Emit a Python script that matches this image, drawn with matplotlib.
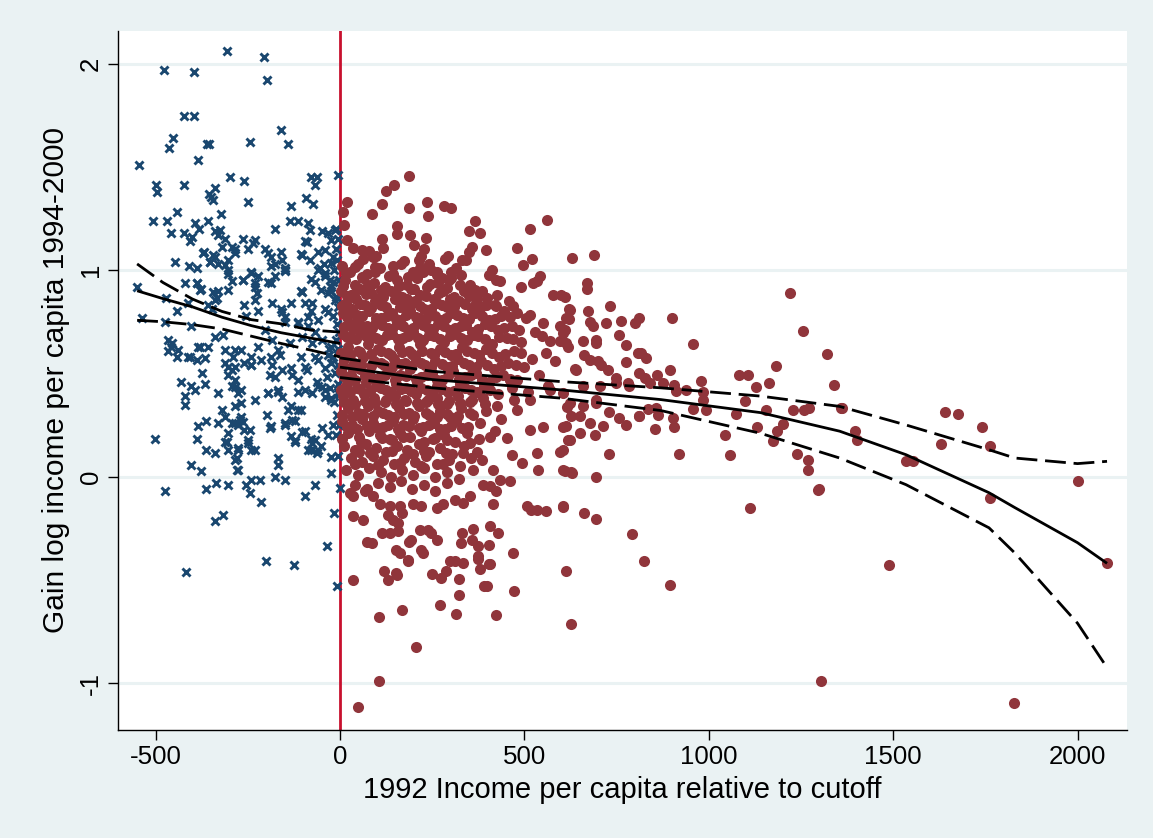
import matplotlib
matplotlib.use("Agg")
import matplotlib.pyplot as plt

# ---- observations below the cutoff (x markers) ----
below_pts = [
    (-306, 2.06), (-207, 2.03), (-477, 1.97), (-397, 1.96), (-199, 1.92), (-422, 1.745), (-396, 1.745),
    (-159, 1.68), (-453, 1.64), (-464, 1.59), (-361, 1.61), (-355, 1.61), (-244, 1.62), (-142, 1.61),
    (-385, 1.535), (-544, 1.51), (-298, 1.45), (-259, 1.43), (-500, 1.41), (-496, 1.38), (-422, 1.41),
    (-339, 1.40), (-356, 1.37), (-344, 1.34), (-349, 1.355), (-250, 1.33), (-78, 1.45), (-61, 1.45),
    (-68, 1.41), (-5, 1.46), (-91, 1.35), (-73, 1.32), (-132, 1.31), (-508, 1.24), (-468, 1.24),
    (-442, 1.28), (-458, 1.18), (-424, 1.18), (-407, 1.14), (-402, 1.16), (-393, 1.23), (-382, 1.20),
    (-359, 1.24), (-323, 1.27), (-340, 1.19), (-330, 1.17), (-326, 1.195), (-312, 1.15), (-175, 1.20),
    (-136, 1.24), (-114, 1.24), (-87, 1.23), (-82, 1.195), (-262, 1.15), (-231, 1.145), (-236, 1.13),
    (-96, 1.14), (-50, 1.19), (-32, 1.18), (-14, 1.195), (-23, 1.145), (-10, 1.10), (-448, 1.04),
    (-410, 1.02), (-387, 1.01), (-368, 1.09), (-339, 1.065), (-353, 1.04), (-330, 1.03), (-303, 1.05),
    (-285, 1.10), (-303, 1.00), (-249, 1.10), (-204, 1.10), (-186, 1.065), (-159, 1.09), (-177, 1.03),
    (-150, 1.01), (-105, 1.08), (-82, 1.05), (-60, 1.09), (-42, 1.03), (-19, 1.065),
    (-549, 0.92), (-389, 0.94), (-376, 0.91), (-330, 0.90), (-303, 0.98), (-294, 0.945), (-303, 0.905),
    (-263, 0.95), (-240, 0.985), (-231, 0.92), (-222, 0.97), (-186, 1.02), (-177, 0.97), (-186, 0.94),
    (-150, 0.995), (-105, 0.90), (-78, 0.955), (-60, 1.00), (-41, 0.97), (-23, 0.92), (-51, 0.905),
    (-472, 0.865), (-443, 0.80), (-412, 0.84), (-339, 0.856), (-348, 0.81), (-259, 0.83), (-231, 0.856),
    (-222, 0.80), (-254, 0.78), (-159, 0.81), (-132, 0.84), (-150, 0.775), (-96, 0.84), (-78, 0.80),
    (-41, 0.81), (-60, 0.76), (-538, 0.77), (-475, 0.75), (-403, 0.73), (-114, 0.75), (-87, 0.73),
    (-69, 0.70), (-466, 0.66), (-457, 0.63), (-466, 0.606), (-439, 0.614), (-380, 0.63), (-357, 0.63),
    (-407, 0.58), (-389, 0.566), (-366, 0.574), (-312, 0.614), (-289, 0.58), (-267, 0.614), (-303, 0.53),
    (-285, 0.53), (-259, 0.55), (-240, 0.54), (-213, 0.566), (-186, 0.58), (-163, 0.59), (-190, 0.49),
    (-177, 0.48), (-132, 0.526), (-105, 0.58), (-96, 0.53), (-60, 0.566), (-41, 0.526), (-23, 0.55),
    (-430, 0.46), (-403, 0.44), (-366, 0.45), (-421, 0.39), (-393, 0.42), (-330, 0.405), (-294, 0.44),
    (-276, 0.405), (-267, 0.357), (-285, 0.34), (-231, 0.37), (-195, 0.405), (-168, 0.42), (-132, 0.34),
    (-105, 0.324), (-60, 0.437), (-41, 0.42), (-23, 0.38), (-321, 0.324), (-312, 0.29), (-330, 0.26),
    (-303, 0.21), (-285, 0.26), (-267, 0.29), (-259, 0.227), (-385, 0.243), (-389, 0.18), (-362, 0.27),
    (-362, 0.13), (-339, 0.115), (-502, 0.18), (-312, 0.17), (-303, 0.13), (-276, 0.13), (-249, 0.163),
    (-231, 0.13), (-285, 0.082), (-276, 0.034), (-186, 0.243), (-150, 0.26), (-123, 0.27), (-132, 0.195),
    (-123, 0.17), (-96, 0.22), (-78, 0.18), (-60, 0.13), (-51, 0.147), (-78, 0.13), (-168, 0.09),
    (-168, 0.058), (-177, 0.0), (-150, -0.015), (-96, -0.095), (-69, -0.04), (-23, 0.018), (-1, -0.055),
    (-403, 0.058), (-376, 0.026), (-362, -0.06), (-335, -0.03), (-303, -0.039), (-254, -0.039),
    (-244, -0.079), (-240, -0.015), (-218, -0.015), (-215, -0.124), (-475, -0.07), (-339, -0.216),
    (-317, -0.187), (-16, -0.176), (-34, -0.334), (-417, -0.46), (-200, -0.41), (-125, -0.43), (-8, -0.53),
    (-373, 0.50), (-420, 0.347), (-280, 0.032), (-271, 0.275), (-262, 0.266), (-276, 0.25), (-294, 0.258),
    (-307, 0.17), (-244, 0.226), (-249, 0.178), (-276, 0.137), (-280, 0.089), (-240, 0.129),
    (-199, 0.299), (-190, 0.234), (-149, 0.25), (-140, 0.323), (-131, 0.275), (-122, 0.178), (-104, 0.218),
    (-113, 0.323), (-90, 0.517), (-77, 0.162), (-68, 0.178), (-63, 0.113), (-86, 0.129), (-50, 0.234),
    (-32, 0.202), (-18, 0.25), (-23, 0.097), (-312, 0.549), (-294, 0.517), (-303, 0.492), (-285, 0.468),
    (-285, 0.436), (-267, 0.42), (-240, 0.541), (-185, 0.541), (-158, 0.517), (-131, 0.492), (-113, 0.468),
    (-194, 0.404), (-167, 0.412), (-158, 0.387), (-113, 0.412), (-95, 0.42), (-77, 0.404), (-63, 0.46),
    (-50, 0.436), (-27, 0.428), (-23, 0.371), (-5, 0.412), (-41, 0.387),
    (-371, 1.085), (-344, 1.074), (-353, 1.041), (-321, 1.114), (-294, 1.114), (-285, 1.082), (-312, 1.025),
    (-240, 0.993), (-262, 0.953), (-231, 0.937), (-226, 0.888), (-194, 0.944), (-149, 1.001), (-158, 1.049),
    (-194, 1.082), (-104, 1.074), (-90, 1.138), (-41, 1.098), (-23, 1.033), (-54, 1.009), (-41, 0.985),
    (-18, 0.944), (-68, 0.944), (-104, 0.896), (-77, 0.84), (-32, 0.888), (-14, 0.856), (-32, 0.799),
    (-86, 0.775), (-113, 0.743), (-149, 0.751), (-158, 0.799), (-185, 0.84), (-203, 0.71), (-185, 0.662),
    (-167, 0.614), (-222, 0.63), (-240, 0.581), (-285, 0.614), (-339, 0.678), (-317, 0.686), (-344, 0.896),
    (-334, 0.864), (-357, 0.831), (-389, 0.937), (-380, 0.904), (-420, 0.937), (-456, 0.646), (-443, 0.581),
    (-411, 0.581), (-384, 0.63), (-136, 0.646), (-104, 0.678), (-77, 0.646), (-50, 0.662), (-23, 0.63),
    (-32, 0.589), (-68, 0.581),
    (-10, 1.2), (-5, 1.15), (-8, 1.05), (-15, 1.0), (-3, 0.95), (-25, 0.9), (-10, 0.87), (-5, 0.82),
    (-18, 0.78), (-8, 0.74), (-3, 0.7), (-12, 0.66), (-6, 0.62), (-20, 0.58), (-4, 0.54), (-14, 0.5),
    (-6, 0.45), (-2, 0.4), (-16, 0.36), (-8, 0.3), (-3, 0.25), (-10, 0.2), (-4, 0.1), (-30, 0.62),
    (-35, 0.48), (-28, 0.95),
]

# ---- observations above the cutoff (filled circles) ----
above_sparse_pts = [
    (187, 1.456), (146, 1.41), (124, 1.385), (18, 1.33), (113, 1.32), (237, 1.33), (282, 1.31), (301, 1.30),
    (9, 1.28), (87, 1.27), (238, 1.26), (186, 1.30), (367, 1.24), (562, 1.245), (156, 1.216), (156, 1.176),
    (351, 1.19), (381, 1.18), (514, 1.20), (12, 1.22), (189, 1.17), (232, 1.156), (113, 1.153), (18, 1.147),
    (36, 1.106), (59, 1.098), (79, 1.095), (97, 1.066), (116, 1.106), (202, 1.12), (227, 1.10), (221, 1.066),
    (359, 1.11), (397, 1.098), (351, 1.09), (480, 1.106), (629, 1.058), (520, 1.055), (495, 1.024),
    (293, 1.066), (284, 1.053), (63, 1.055), (90, 1.063), (41, 1.013), (95, 1.017), (144, 1.02), (173, 1.046),
    (215, 1.05), (242, 1.03), (217, 1.01), (262, 0.993), (302, 0.993), (332, 1.05), (341, 1.05), (328, 0.977),
    (411, 1.00), (404, 0.977), (433, 0.945), (424, 0.953), (492, 0.918), (533, 0.945), (542, 0.97),
    (524, 0.937), (578, 0.88), (600, 0.88), (609, 0.872), (623, 0.808), (621, 0.763), (370, 0.84),
    (397, 0.832), (424, 0.824), (469, 0.824), (515, 0.784), (551, 0.744), (596, 0.727), (605, 0.695),
    (614, 0.647), (641, 0.518), (569, 0.655), (596, 0.655), (618, 0.63), (560, 0.598),
    (688, 1.075), (670, 0.937), (670, 0.908), (621, 0.81), (672, 0.80), (731, 0.824), (614, 0.77),
    (677, 0.75), (686, 0.727), (722, 0.746), (763, 0.756), (799, 0.743), (811, 0.77), (901, 0.768),
    (611, 0.711), (659, 0.655), (693, 0.647), (695, 0.663), (756, 0.687), (776, 0.635), (957, 0.643),
    (663, 0.59), (677, 0.566), (700, 0.558), (709, 0.542), (727, 0.518), (775, 0.553), (808, 0.598),
    (817, 0.598), (829, 0.574), (636, 0.521), (896, 0.518), (860, 0.493), (812, 0.502), (826, 0.477),
    (749, 0.477), (749, 0.453), (781, 0.453), (785, 0.437), (876, 0.453), (907, 0.445), (912, 0.413),
    (939, 0.42), (980, 0.461), (984, 0.408), (840, 0.453), (1083, 0.493), (1106, 0.493), (1127, 0.434),
    (1164, 0.453), (1183, 0.537), (1097, 0.364), (1074, 0.305), (1156, 0.324), (1228, 0.321), (1259, 0.324),
    (1273, 0.332), (1219, 0.889), (1255, 0.703), (1322, 0.595), (1340, 0.445), (1359, 0.332), (984, 0.372),
    (993, 0.324), (957, 0.327), (858, 0.332), (862, 0.30), (812, 0.292), (835, 0.327), (1043, 0.20),
    (1058, 0.103), (1130, 0.239), (1184, 0.223), (1175, 0.171), (1202, 0.256), (1238, 0.11), (1268, 0.079),
    (1268, 0.03), (1296, -0.063), (1397, 0.223), (1402, 0.179), (1113, -0.152), (903, 0.284), (919, 0.11),
    (854, 0.23), (905, 0.238), (811, 0.292), (776, 0.25), (729, 0.11), (692, 0.203), (650, 0.211),
    (623, 0.179), (605, 0.131), (609, 0.026), (627, 0.021), (693, -0.002), (605, -0.147), (663, -0.176),
    (693, -0.205), (792, -0.279), (729, 0.313), (758, 0.284), (713, 0.243), (650, 0.292), (659, 0.34),
    (623, 0.356), (627, 0.292), (614, 0.243), (695, 0.356), (704, 0.437), (659, 0.437), (695, 0.372),
    (677, 0.26),
    (1361, 0.332), (1489, -0.426), (1535, 0.074), (1553, 0.077), (1631, 0.16), (1641, 0.311), (1676, 0.301),
    (1742, 0.239), (1762, 0.15), (1764, -0.103), (2001, -0.023), (2081, -0.42), (1829, -1.095),
    (1305, -0.99), (1300, -0.06),
    (452, 0.186), (466, 0.105), (493, 0.065), (538, 0.032), (533, 0.113), (551, 0.242), (606, 0.242),
    (619, 0.178), (596, 0.121), (606, 0.032), (628, 0.019), (479, 0.323), (515, 0.226), (606, 0.404),
    (615, 0.339), (570, 0.42), (515, 0.371), (461, 0.468), (407, 0.194), (384, 0.081), (416, 0.032),
    (434, -0.016), (362, 0.032), (334, 0.113), (352, 0.162),
    (35, -0.50), (120, -0.456), (129, -0.50), (151, -0.466), (155, -0.476), (185, -0.41), (106, -0.68),
    (169, -0.648), (205, -0.827), (106, -0.99), (48, -1.116), (250, -0.47), (275, -0.49), (288, -0.456),
    (298, -0.41), (311, -0.41), (333, -0.418), (322, -0.498), (323, -0.572), (271, -0.62), (314, -0.663),
    (375, -0.40), (379, -0.445), (406, -0.424), (391, -0.53), (399, -0.53), (424, -0.67), (471, -0.555),
    (614, -0.455), (627, -0.714), (825, -0.41), (896, -0.526),
    (36, -0.19), (63, -0.208), (72, -0.318), (86, -0.321), (113, -0.272), (135, -0.272), (158, -0.265),
    (131, -0.184), (144, -0.208), (158, -0.224), (167, -0.176), (188, -0.318), (192, -0.305), (217, -0.26),
    (239, -0.26), (153, -0.353), (162, -0.37), (185, -0.406), (221, -0.353), (224, -0.37), (262, -0.305),
    (248, -0.272), (329, -0.321), (332, -0.272), (361, -0.256), (357, -0.305), (375, -0.337), (404, -0.329),
    (406, -0.24), (429, -0.272), (375, -0.386), (404, -0.421), (469, -0.372), (506, -0.144), (519, -0.16),
    (533, -0.16), (558, -0.168), (605, -0.144), (415, -0.135), (36, -0.095), (27, -0.079), (90, -0.095),
    (68, -0.071), (108, -0.131), (135, -0.144), (162, -0.144), (199, -0.135), (221, -0.144), (262, -0.152),
    (280, -0.132), (311, -0.111), (334, -0.127), (352, -0.095), (388, -0.039), (406, -0.047), (424, -0.071),
    (460, -0.023),
]

above_dense_pts = [
    (6, 1.02), (27, 0.99), (50, 1.03), (74, 0.98), (108, 1.01), (133, 0.97), (166, 1.03), (198, 0.99),
    (247, 1.0), (276, 0.96), (316, 1.01),
    (14, 0.95), (40, 0.93), (63, 0.96), (91, 0.94), (121, 0.92), (154, 0.95), (182, 0.93), (210, 0.96),
    (236, 0.92), (267, 0.94), (296, 0.95), (352, 0.93), (386, 0.9),
    (4, 0.9), (30, 0.88), (55, 0.91), (83, 0.89), (101, 0.86), (138, 0.9), (168, 0.87), (193, 0.91),
    (218, 0.88), (254, 0.86), (280, 0.9), (309, 0.87), (336, 0.9), (372, 0.86), (425, 0.88), (458, 0.85),
    (17, 0.84), (44, 0.86), (68, 0.83), (96, 0.85), (126, 0.82), (148, 0.86), (177, 0.83), (204, 0.85),
    (229, 0.81), (262, 0.84), (290, 0.82), (322, 0.85), (357, 0.81), (395, 0.83), (446, 0.8), (480, 0.79),
    (9, 0.79), (33, 0.81), (59, 0.78), (80, 0.8), (112, 0.77), (141, 0.79), (163, 0.76), (191, 0.8),
    (215, 0.77), (243, 0.79), (272, 0.76), (300, 0.79), (333, 0.77), (365, 0.79), (404, 0.76), (436, 0.78),
    (505, 0.77),
    (21, 0.74), (47, 0.76), (72, 0.73), (99, 0.75), (129, 0.72), (156, 0.74), (184, 0.71), (211, 0.75),
    (238, 0.72), (266, 0.74), (298, 0.71), (327, 0.73), (358, 0.7), (393, 0.74), (428, 0.71), (467, 0.73),
    (530, 0.7),
    (7, 0.69), (31, 0.67), (56, 0.7), (84, 0.68), (113, 0.66), (142, 0.69), (171, 0.67), (199, 0.7),
    (226, 0.66), (256, 0.68), (283, 0.65), (314, 0.69), (344, 0.66), (375, 0.68), (412, 0.64), (452, 0.67),
    (490, 0.65), (548, 0.68),
    (23, 0.63), (49, 0.61), (76, 0.64), (102, 0.62), (131, 0.6), (159, 0.63), (186, 0.61), (216, 0.64),
    (246, 0.6), (271, 0.62), (302, 0.59), (331, 0.63), (363, 0.6), (397, 0.62), (431, 0.58), (472, 0.61),
    (522, 0.57),
    (12, 0.57), (38, 0.55), (63, 0.58), (91, 0.56), (119, 0.54), (146, 0.57), (176, 0.55), (203, 0.58),
    (231, 0.54), (259, 0.56), (289, 0.53), (319, 0.57), (351, 0.54), (382, 0.56), (419, 0.52), (456, 0.55),
    (499, 0.53), (582, 0.56),
    (4, 0.51), (29, 0.49), (53, 0.52), (79, 0.5), (109, 0.48), (136, 0.51), (163, 0.49), (191, 0.52),
    (221, 0.48), (249, 0.5), (276, 0.47), (306, 0.51), (339, 0.48), (369, 0.5), (403, 0.46), (441, 0.49),
    (479, 0.47), (541, 0.49),
    (19, 0.45), (46, 0.43), (71, 0.46), (99, 0.44), (126, 0.42), (151, 0.45), (179, 0.43), (209, 0.46),
    (236, 0.42), (263, 0.44), (293, 0.41), (326, 0.45), (356, 0.42), (391, 0.44), (428, 0.4), (466, 0.43),
    (511, 0.41), (563, 0.44),
    (9, 0.39), (36, 0.37), (66, 0.4), (93, 0.38), (121, 0.36), (149, 0.39), (176, 0.37), (206, 0.4),
    (233, 0.36), (263, 0.38), (291, 0.35), (321, 0.39), (353, 0.36), (388, 0.38), (426, 0.34), (471, 0.37),
    (21, 0.33), (49, 0.31), (76, 0.34), (103, 0.32), (131, 0.3), (159, 0.33), (186, 0.31), (213, 0.34),
    (241, 0.3), (271, 0.32), (299, 0.29), (329, 0.33), (361, 0.3), (396, 0.32), (436, 0.28),
    (6, 0.27), (33, 0.25), (61, 0.28), (89, 0.26), (116, 0.24), (143, 0.27), (171, 0.25), (199, 0.28),
    (226, 0.24), (256, 0.26), (286, 0.23), (316, 0.27), (346, 0.24), (381, 0.26), (421, 0.22),
    (23, 0.21), (51, 0.19), (80, 0.22), (108, 0.2), (136, 0.18), (163, 0.21), (191, 0.19), (221, 0.22),
    (251, 0.18), (281, 0.2), (311, 0.17), (344, 0.21), (376, 0.18),
    (11, 0.15), (41, 0.13), (71, 0.16), (99, 0.14), (126, 0.12), (156, 0.15), (183, 0.13), (213, 0.16),
    (241, 0.12), (271, 0.14), (303, 0.11), (336, 0.15), (371, 0.12),
    (29, 0.09), (59, 0.07), (89, 0.1), (116, 0.08), (146, 0.06), (173, 0.09), (203, 0.07), (233, 0.1),
    (263, 0.06), (296, 0.08), (326, 0.05), (356, 0.09),
    (16, 0.03), (49, 0.01), (79, 0.04), (111, 0.02), (139, 0.0), (169, 0.03), (199, 0.01), (229, 0.04),
    (259, 0.0), (291, 0.02), (323, -0.01),
    (41, -0.04), (73, -0.06), (103, -0.03), (136, -0.05), (166, -0.02), (196, -0.06), (229, -0.04),
    (259, -0.07), (289, -0.03),
]

# second, offset layer of the core cluster
above_core_pts = [
    (17, 0.985), (60, 0.965), (95, 0.99), (145, 0.98), (185, 0.965), (225, 0.99), (262, 0.975), (300, 0.96),
    (8, 0.925), (47, 0.915), (76, 0.93), (112, 0.905), (160, 0.925), (200, 0.91), (245, 0.935), (290, 0.915),
    (325, 0.93), (365, 0.905),
    (18, 0.875), (42, 0.865), (70, 0.885), (118, 0.87), (155, 0.88), (182, 0.86), (232, 0.875), (268, 0.89),
    (298, 0.86), (350, 0.875), (400, 0.865),
    (5, 0.825), (55, 0.835), (85, 0.815), (112, 0.83), (162, 0.82), (192, 0.835), (218, 0.825), (248, 0.81),
    (278, 0.83), (310, 0.82), (340, 0.835), (380, 0.815), (420, 0.83),
    (20, 0.775), (46, 0.785), (98, 0.77), (128, 0.78), (152, 0.765), (178, 0.785), (205, 0.775), (232, 0.765),
    (258, 0.78), (288, 0.77), (318, 0.785), (350, 0.765), (385, 0.78), (420, 0.765), (460, 0.775),
    (10, 0.725), (35, 0.715), (60, 0.73), (86, 0.72), (114, 0.735), (142, 0.715), (170, 0.73), (198, 0.72),
    (225, 0.735), (252, 0.715), (282, 0.73), (312, 0.72), (342, 0.735), (375, 0.715), (410, 0.73),
    (445, 0.72), (485, 0.71),
    (18, 0.675), (44, 0.665), (70, 0.68), (98, 0.67), (128, 0.685), (158, 0.665), (185, 0.68), (212, 0.67),
    (242, 0.685), (270, 0.665), (298, 0.68), (328, 0.67), (360, 0.685), (392, 0.665), (430, 0.675),
    (470, 0.665),
    (2, 0.6), (28, 0.59), (55, 0.605), (84, 0.595), (110, 0.61), (138, 0.59), (168, 0.605), (195, 0.595),
    (222, 0.61), (255, 0.59), (285, 0.605), (314, 0.595), (345, 0.61), (378, 0.59), (412, 0.6), (448, 0.595),
    (490, 0.6),
    (8, 0.54), (32, 0.53), (58, 0.545), (84, 0.535), (112, 0.55), (140, 0.53), (165, 0.545), (192, 0.535),
    (220, 0.55), (248, 0.53), (276, 0.545), (305, 0.535), (336, 0.55), (368, 0.53), (400, 0.54), (437, 0.535),
    (478, 0.54),
    (15, 0.48), (42, 0.47), (68, 0.485), (94, 0.475), (122, 0.49), (150, 0.47), (178, 0.485), (205, 0.475),
    (235, 0.49), (262, 0.47), (292, 0.485), (322, 0.475), (354, 0.49), (386, 0.47), (422, 0.48), (460, 0.475),
    (2, 0.42), (28, 0.41), (55, 0.425), (82, 0.415), (110, 0.43), (138, 0.41), (165, 0.425), (192, 0.415),
    (220, 0.43), (250, 0.41), (278, 0.425), (308, 0.415), (338, 0.43), (372, 0.41), (408, 0.42),
    (12, 0.36), (40, 0.35), (68, 0.365), (95, 0.355), (125, 0.37), (152, 0.35), (180, 0.365), (208, 0.355),
    (238, 0.37), (266, 0.35), (296, 0.365), (326, 0.355), (358, 0.37), (392, 0.35),
    (6, 0.3), (34, 0.29), (62, 0.305), (90, 0.295), (118, 0.31), (146, 0.29), (174, 0.305), (202, 0.295),
    (232, 0.31), (262, 0.29), (290, 0.305), (320, 0.295), (352, 0.31),
    (18, 0.24), (46, 0.23), (74, 0.245), (102, 0.235), (130, 0.25), (158, 0.23), (186, 0.245), (214, 0.235),
    (242, 0.25), (272, 0.23), (300, 0.245), (332, 0.235),
    (5, 0.18), (58, 0.17), (114, 0.185), (142, 0.175), (170, 0.19), (228, 0.17), (258, 0.185), (290, 0.175),
    (52, 0.12), (82, 0.115), (140, 0.125), (198, 0.11), (228, 0.125), (288, 0.115),
    (40, 0.06), (102, 0.055), (162, 0.065), (220, 0.05), (280, 0.06),
]

# ---- fitted curves with confidence bands ----
left_fit_x = [-550, -480, -400, -320, -240, -160, -80, 0]
left_fit_mid = [0.90, 0.862, 0.822, 0.772, 0.731, 0.697, 0.671, 0.645]
left_fit_hi = [1.03, 0.94, 0.86, 0.80, 0.76, 0.74, 0.71, 0.70]
left_fit_lo = [0.757, 0.75, 0.736, 0.715, 0.68, 0.645, 0.613, 0.58]

right_fit_x = [0, 250, 600, 870, 1140, 1355, 1535, 1760, 1830, 2000, 2080]
right_fit_mid = [0.53, 0.47, 0.42, 0.373, 0.31, 0.22, 0.106, -0.078, -0.15, -0.32, -0.42]
right_fit_hi = [0.575, 0.51, 0.46, 0.43, 0.39, 0.34, 0.25, 0.13, 0.09, 0.063, 0.074]
right_fit_lo = [0.48, 0.43, 0.38, 0.32, 0.21, 0.09, -0.039, -0.248, -0.37, -0.71, -0.925]

x_ticks = [-500, 0, 500, 1000, 1500, 2000]
y_ticks = [-1, 0, 1, 2]
x_title = "1992 Income per capita relative to cutoff"
y_title = "Gain log income per capita 1994-2000"

NAVY = "#1a476f"
MAROON = "#90353b"
CUT = "#c8102e"
BG = "#eaf2f3"

plt.rcParams["font.family"] = ["Liberation Sans", "DejaVu Sans"]

fig = plt.figure(figsize=(11.53, 8.38), dpi=100, facecolor=BG)
ax = fig.add_axes([0.1023, 0.1289, 0.8751, 0.8341])
ax.set_facecolor("white")

ax.set_xlim(-602, 2134)
ax.set_ylim(-1.227, 2.158)

for yt in y_ticks:
    ax.axhline(yt, color=BG, lw=2.2, zorder=0)

ax.axvline(0, color=CUT, lw=2.0, zorder=1)

bx = [p[0] for p in below_pts]
by = [p[1] for p in below_pts]
ax.plot(bx, by, linestyle="none", marker="x", ms=6.4, mew=2.1, color=NAVY, zorder=2)

above_pts = above_sparse_pts + above_dense_pts + above_core_pts
rx = [p[0] for p in above_pts]
ry = [p[1] for p in above_pts]
ax.plot(rx, ry, linestyle="none", marker="o", ms=8.0, mew=0, color=MAROON, zorder=3)

for xs, mid, hi, lo in ((left_fit_x, left_fit_mid, left_fit_hi, left_fit_lo),
                        (right_fit_x, right_fit_mid, right_fit_hi, right_fit_lo)):
    ax.plot(xs, mid, color="black", lw=2.0, zorder=4, solid_capstyle="butt")
    for band in (hi, lo):
        ln, = ax.plot(xs, band, color="black", lw=2.0, zorder=4, dash_capstyle="butt")
        ln.set_dashes((7.5, 2.8))

for s in ("top", "right"):
    ax.spines[s].set_visible(False)
for s in ("left", "bottom"):
    ax.spines[s].set_color("black")
    ax.spines[s].set_linewidth(1.0)

ax.set_xticks(x_ticks)
ax.set_yticks(y_ticks)
ax.set_xticklabels([str(v) for v in x_ticks])
ax.set_yticklabels([str(v) for v in y_ticks], rotation=90, va="center")
ax.tick_params(axis="both", direction="out", length=7, width=1.0, labelsize=18.6, colors="black", pad=4)

ax.set_xlabel(x_title, fontsize=21, labelpad=5)
ax.set_ylabel(y_title, fontsize=21.5, labelpad=6)

fig.savefig("out.png", dpi=100, facecolor=BG)
